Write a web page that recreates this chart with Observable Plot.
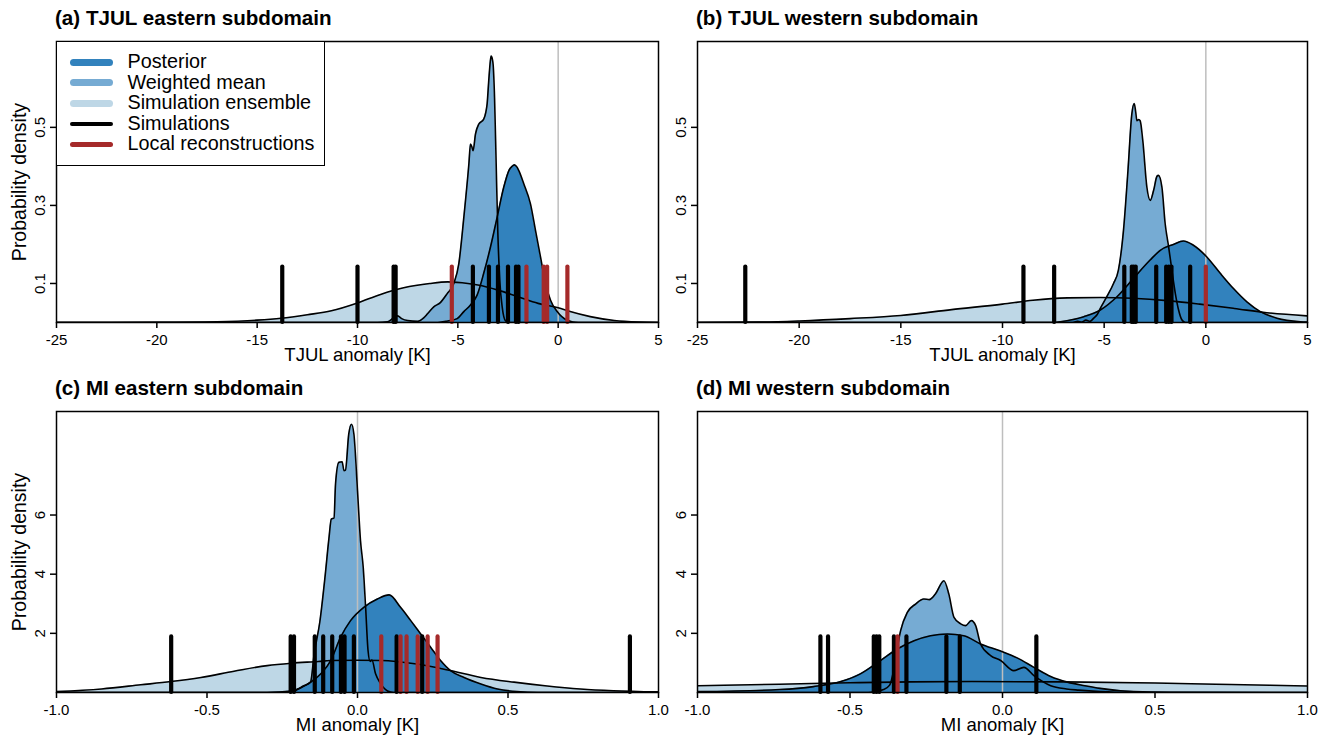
<!DOCTYPE html>
<html>
<head>
<meta charset="utf-8">
<script src="https://cdn.jsdelivr.net/npm/d3@7"></script>
<script src="https://cdn.jsdelivr.net/npm/@observablehq/plot@0.6"></script>
<style>
  body { margin: 0; background: #fff; font-family: "Liberation Sans", Arial, Helvetica, sans-serif; }
  #root { position: relative; width: 1333px; height: 740px; overflow: hidden; background: #fff; }
  .panel { position: absolute; }
  .title { position: absolute; font-weight: bold; font-size: 20.6px; line-height: 1; white-space: nowrap; color: #000; }
  #legend { position: absolute; left: 56px; top: 41px; width: 267px; height: 123px; border: 1.5px solid #000; background: #fff; }
  .lrow { position: absolute; left: 0; font-size: 19.8px; line-height: 1; white-space: nowrap; }
  .sw { position: absolute; left: 14px; width: 43px; border-radius: 4px; }
  .lt { position: absolute; left: 72px; white-space: nowrap; }
</style>
</head>
<body>
<div id="root"></div>
<script>
// ---------- tick labels / categories ----------
const tjulXTicks = [-25, -20, -15, -10, -5, 0, 5];
const miXTicks = [-1, -0.5, 0, 0.5, 1];
const tjulYTicks = [0.1, 0.3, 0.5];
const miYTicks = [2, 4, 6];
const legendLabels = ["Posterior", "Weighted mean", "Simulation ensemble", "Simulations", "Local reconstructions"];

// ---------- (a) TJUL eastern subdomain ----------
const tjulEastEnsemble = [[-25,0],[-20,0.0005],[-17,0.002],[-15,0.006],[-13.8,0.011],[-12.5,0.02],[-11.3,0.03],[-10,0.05],[-8.85,0.072],[-7.7,0.089],[-6.4,0.1],[-5.5,0.104],[-4.5,0.1],[-4.0,0.096],[-3.0,0.083],[-2.0,0.066],[-1.0,0.049],[0,0.038],[0.6,0.028],[1.6,0.015],[2.8,0.005],[4,0.001],[5,0]];
const tjulEastWeighted = [[-25,0],[-9,0],[-8.5,0.002],[-8.2,0.012],[-8.0,0.017],[-7.8,0.01],[-7.5,0.005],[-7.0,0.003],[-6.7,0.012],[-6.5,0.023],[-6.2,0.04],[-5.87,0.051],[-5.53,0.074],[-5.2,0.1],[-4.95,0.151],[-4.7,0.27],[-4.45,0.406],[-4.37,0.457],[-4.3,0.45],[-4.24,0.44],[-4.12,0.483],[-3.96,0.508],[-3.71,0.521],[-3.6,0.54],[-3.54,0.56],[-3.46,0.619],[-3.38,0.67],[-3.34,0.683],[-3.28,0.675],[-3.24,0.66],[-3.17,0.576],[-3.09,0.407],[-3.01,0.236],[-2.91,0.108],[-2.79,0.04],[-2.63,0.005],[-2.4,0],[5,0]];
const tjulEastPosterior = [[-25,0],[-6,0],[-5.5,0.004],[-5.03,0.01],[-4.7,0.028],[-4.37,0.045],[-4.04,0.07],[-3.71,0.126],[-3.37,0.194],[-3.04,0.27],[-2.71,0.347],[-2.45,0.39],[-2.3,0.4],[-2.18,0.404],[-2.05,0.398],[-1.96,0.389],[-1.71,0.355],[-1.38,0.304],[-1.13,0.236],[-0.88,0.168],[-0.63,0.1],[-0.38,0.057],[-0.05,0.028],[0.45,0.006],[1,0],[5,0]];
const tjulEastSims = [-13.75, -10, -8.2, -8.1, -4.25, -3.45, -3.0, -2.5, -2.1, -1.98];
const tjulEastRecs = [-5.3, -1.58, -0.72, -0.55, 0.46];

// ---------- (b) TJUL western subdomain ----------
const tjulWestEnsemble = [[-25,0],[-22,0.001],[-20,0.004],[-17.5,0.01],[-15,0.018],[-12.5,0.033],[-10,0.047],[-8.5,0.057],[-6.8,0.063],[-5.2,0.064],[-3.6,0.062],[-1.9,0.056],[-0.3,0.047],[1.4,0.036],[3,0.025],[5,0.017]];
const tjulWestWeighted = [[-25,0],[-6.6,0],[-6.3,0.003],[-6.1,0.001],[-5.9,0.006],[-5.7,0.003],[-5.5,0.012],[-5.35,0.02],[-5.19,0.036],[-4.87,0.066],[-4.54,0.1],[-4.3,0.134],[-4.05,0.236],[-3.83,0.389],[-3.64,0.534],[-3.52,0.561],[-3.45,0.54],[-3.39,0.517],[-3.3,0.52],[-3.23,0.517],[-3.1,0.466],[-2.9,0.347],[-2.73,0.313],[-2.57,0.338],[-2.4,0.375],[-2.33,0.377],[-2.16,0.347],[-2.0,0.253],[-1.83,0.194],[-1.67,0.134],[-1.5,0.074],[-1.34,0.032],[-1.18,0.007],[-1.0,0],[5,0]];
const tjulWestPosterior = [[-25,0],[-7.5,0],[-7.16,0.002],[-6.0,0.015],[-5.19,0.032],[-4.37,0.066],[-3.56,0.113],[-2.74,0.16],[-2.24,0.185],[-1.6,0.2],[-1.1,0.209],[-0.61,0.198],[0.05,0.168],[0.71,0.126],[1.36,0.087],[2.02,0.053],[2.68,0.028],[3.5,0.011],[4.65,0.002],[5,0.001]];
const tjulWestSims = [-22.65, -8.97, -7.46, -4.01, -3.64, -3.55, -3.45, -2.44, -1.95, -1.82, -1.69, -0.77];
const tjulWestRecs = [0.0];

// ---------- (c) MI eastern subdomain ----------
const miEastEnsemble = [[-1,0.03],[-0.85,0.12],[-0.72,0.26],[-0.62,0.37],[-0.52,0.51],[-0.41,0.72],[-0.3,0.91],[-0.22,0.99],[-0.13,1.05],[-0.09,1.08],[0,1.09],[0.08,1.08],[0.19,0.97],[0.3,0.76],[0.41,0.51],[0.52,0.35],[0.63,0.22],[0.74,0.12],[0.85,0.06],[1,0.02]];
const miEastWeighted = [[-1,0],[-0.23,0],[-0.2,0.1],[-0.18,0.22],[-0.156,0.35],[-0.144,1.3],[-0.125,2.4],[-0.108,3.9],[-0.095,5.2],[-0.087,5.86],[-0.078,5.9],[-0.073,7.05],[-0.062,7.78],[-0.051,7.8],[-0.045,7.5],[-0.04,7.52],[-0.029,8.74],[-0.02,9.07],[-0.012,8.74],[0,6.82],[0.01,5.13],[0.019,4.23],[0.027,2.88],[0.035,1.42],[0.042,1.05],[0.048,1.1],[0.06,0.63],[0.077,0.3],[0.1,0.05],[0.12,0],[1,0]];
const miEastPosterior = [[-1,0],[-0.3,0],[-0.22,0.05],[-0.19,0.15],[-0.156,0.35],[-0.12,0.65],[-0.089,1.08],[-0.056,1.87],[-0.023,2.43],[0.021,2.88],[0.066,3.16],[0.105,3.3],[0.143,2.88],[0.177,2.43],[0.21,1.98],[0.243,1.53],[0.276,1.08],[0.309,0.74],[0.354,0.51],[0.41,0.29],[0.465,0.12],[0.53,0.03],[0.6,0],[1,0]];
const miEastSims = [-0.619, -0.222, -0.211, -0.142, -0.114, -0.084, -0.055, -0.043, -0.012, 0.13, 0.215, 0.905];
const miEastRecs = [0.079, 0.143, 0.163, 0.2, 0.233, 0.266];

// ---------- (d) MI western subdomain ----------
const miWestEnsemble = [[-1,0.23],[-0.73,0.28],[-0.5,0.33],[-0.3,0.36],[-0.1,0.37],[0.2,0.36],[0.5,0.32],[0.75,0.27],[1,0.22]];
const miWestWeighted = [[-1,0],[-0.44,0],[-0.39,0.1],[-0.37,0.25],[-0.356,0.8],[-0.345,1.5],[-0.334,2.09],[-0.312,2.71],[-0.285,2.99],[-0.258,3.16],[-0.24,3.14],[-0.22,3.33],[-0.192,3.78],[-0.176,3.33],[-0.159,2.54],[-0.137,2.32],[-0.121,2.26],[-0.102,2.43],[-0.088,2.26],[-0.072,1.64],[-0.039,1.25],[-0.006,1.08],[0.037,0.74],[0.07,0.85],[0.103,0.57],[0.158,0.23],[0.21,0.12],[0.25,0.08],[0.32,0.03],[0.4,0],[1,0]];
const miWestPosterior = [[-1,0.03],[-0.73,0.1],[-0.62,0.2],[-0.53,0.37],[-0.466,0.63],[-0.4,1.08],[-0.345,1.47],[-0.29,1.75],[-0.236,1.92],[-0.181,1.98],[-0.127,1.92],[-0.072,1.64],[-0.006,1.4],[0.048,1.17],[0.103,0.85],[0.158,0.54],[0.213,0.35],[0.27,0.23],[0.32,0.14],[0.43,0.03],[0.55,0.005],[1,0]];
const miWestSims = [-0.597, -0.572, -0.422, -0.413, -0.404, -0.356, -0.315, -0.184, -0.14, 0.111];
const miWestRecs = [-0.344];

// ---------- styling ----------
const FONT = '"Liberation Sans", Arial, Helvetica, sans-serif';
const C_POST = "#3282bd", C_WM = "#76abd3", C_ENS = "#bed7e6", C_SIM = "#000000", C_REC = "#a52a2a";
const CURVE = "monotone-x";
const TICK_FS = 15;

function makePanel(cfg) {
  const pts = a => a.map(([x, y]) => ({x, y}));
  const ens = pts(cfg.ens), wm = pts(cfg.wm), post = pts(cfg.post);
  const sims = cfg.sims.map(x => ({x, y1: 0, y2: cfg.simH}));
  const recs = cfg.recs.map(x => ({x, y1: 0, y2: cfg.simH}));
  const marks = [
    Plot.areaY(ens, {x: "x", y: "y", fill: C_ENS, curve: CURVE, clip: true}),
    Plot.areaY(wm, {x: "x", y: "y", fill: C_WM, curve: CURVE, clip: true}),
    Plot.areaY(post, {x: "x", y: "y", fill: C_POST, curve: CURVE, clip: true}),
    Plot.ruleX([0], {stroke: "#bebebe", strokeWidth: 1.5}),
    Plot.lineY(ens, {x: "x", y: "y", stroke: "#000", strokeWidth: 1.6, curve: CURVE, clip: true}),
    Plot.lineY(wm, {x: "x", y: "y", stroke: "#000", strokeWidth: 1.6, curve: CURVE, clip: true}),
    Plot.lineY(post, {x: "x", y: "y", stroke: "#000", strokeWidth: 1.6, curve: CURVE, clip: true}),
    Plot.ruleX(sims, {x: "x", y1: "y1", y2: "y2", stroke: C_SIM, strokeWidth: 4.2, strokeLinecap: "round"}),
    Plot.ruleX(recs, {x: "x", y1: "y1", y2: "y2", stroke: C_REC, strokeWidth: 4.2, strokeLinecap: "round"}),
    Plot.frame({stroke: "#000", strokeWidth: 1.5}),
    // tick lines from the library's axes; labels drawn as text marks for exact sizing
    Plot.axisX({ticks: cfg.xTicks, tickFormat: () => "", tickSize: 6, strokeWidth: 1.5, label: null}),
    Plot.axisY({ticks: cfg.yTicks, tickFormat: () => "", tickSize: 6, strokeWidth: 1.5, label: null}),
    Plot.text(cfg.xTicks, {x: d => d, text: cfg.xFmt, frameAnchor: "bottom", lineAnchor: "top", textAnchor: "middle", dy: 12, fontSize: TICK_FS}),
    Plot.text(cfg.yTicks, {y: d => d, text: cfg.yFmt, frameAnchor: "left", lineAnchor: "middle", textAnchor: "middle", rotate: -90, dx: -16, fontSize: TICK_FS}),
    Plot.text([cfg.xLabel], {text: d => d, frameAnchor: "bottom", lineAnchor: "middle", textAnchor: "middle", dy: 33, fontSize: 18.5})
  ];
  if (cfg.yLabel) {
    marks.push(Plot.text([cfg.yLabel], {text: d => d, frameAnchor: "left", textAnchor: "middle", lineAnchor: "middle", dx: -37, rotate: -90, fontSize: 19.5}));
  }
  const svg = Plot.plot({
    width: cfg.width,
    height: 337,
    marginLeft: 56,
    marginRight: cfg.width - 56 - cfg.plotW,
    marginTop: 11,
    marginBottom: 45,
    x: {domain: cfg.xDomain},
    y: {domain: cfg.yDomain},
    style: {fontFamily: FONT, background: "transparent", color: "#000", overflow: "visible"},
    marks
  });
  const div = document.createElement("div");
  div.className = "panel";
  div.style.left = cfg.left + "px";
  div.style.top = cfg.top + "px";
  div.appendChild(svg);
  document.getElementById("root").appendChild(div);

  const t = document.createElement("div");
  t.className = "title";
  t.textContent = cfg.title;
  t.style.left = (cfg.left + 55) + "px";
  t.style.top = (cfg.top - 22.5) + "px";
  document.getElementById("root").appendChild(t);
}

const tjulFmt = d => String(d);
const tjulYFmt = d => d.toFixed(1);
const miFmt = d => d.toFixed(1);
const miYFmt = d => String(d);

makePanel({title: "(a) TJUL eastern subdomain", left: 0, top: 30, width: 666, plotW: 602,
  ens: tjulEastEnsemble, wm: tjulEastWeighted, post: tjulEastPosterior, sims: tjulEastSims, recs: tjulEastRecs,
  xDomain: [-25, 5], yDomain: [0, 0.72], xTicks: tjulXTicks, yTicks: tjulYTicks, xFmt: tjulFmt, yFmt: tjulYFmt,
  simH: 0.142, xLabel: "TJUL anomaly [K]", yLabel: "Probability density"});
makePanel({title: "(b) TJUL western subdomain", left: 641, top: 30, width: 674, plotW: 610,
  ens: tjulWestEnsemble, wm: tjulWestWeighted, post: tjulWestPosterior, sims: tjulWestSims, recs: tjulWestRecs,
  xDomain: [-25, 5], yDomain: [0, 0.72], xTicks: tjulXTicks, yTicks: tjulYTicks, xFmt: tjulFmt, yFmt: tjulYFmt,
  simH: 0.142, xLabel: "TJUL anomaly [K]", yLabel: null});
makePanel({title: "(c) MI eastern subdomain", left: 0, top: 400, width: 666, plotW: 602,
  ens: miEastEnsemble, wm: miEastWeighted, post: miEastPosterior, sims: miEastSims, recs: miEastRecs,
  xDomain: [-1, 1], yDomain: [0, 9.5], xTicks: miXTicks, yTicks: miYTicks, xFmt: miFmt, yFmt: miYFmt,
  simH: 1.88, xLabel: "MI anomaly [K]", yLabel: "Probability density"});
makePanel({title: "(d) MI western subdomain", left: 641, top: 400, width: 674, plotW: 610,
  ens: miWestEnsemble, wm: miWestWeighted, post: miWestPosterior, sims: miWestSims, recs: miWestRecs,
  xDomain: [-1, 1], yDomain: [0, 9.5], xTicks: miXTicks, yTicks: miYTicks, xFmt: miFmt, yFmt: miYFmt,
  simH: 1.88, xLabel: "MI anomaly [K]", yLabel: null});

// ---------- legend ----------
const legendColors = [C_POST, C_WM, C_ENS, C_SIM, C_REC];
const legendWidths = [7, 7, 7, 4.3, 4.3];
const legend = document.createElement("div");
legend.id = "legend";
legendLabels.forEach((lab, i) => {
  const baseline = 69.3 + 20.6 * i - 41 - 1.5; // relative to legend content box
  const sw = document.createElement("div");
  sw.className = "sw";
  sw.style.background = legendColors[i];
  sw.style.height = legendWidths[i] + "px";
  sw.style.top = (baseline - 6.6 - legendWidths[i] / 2) + "px";
  sw.style.left = (14 - 1.5) + "px";
  legend.appendChild(sw);
  const tx = document.createElement("div");
  tx.className = "lrow lt";
  tx.textContent = lab;
  tx.style.left = (72 - 1.5) + "px";
  tx.style.top = (baseline - 0.8465 * 19.8) + "px";
  legend.appendChild(tx);
});
document.getElementById("root").appendChild(legend);
</script>
</body>
</html>
